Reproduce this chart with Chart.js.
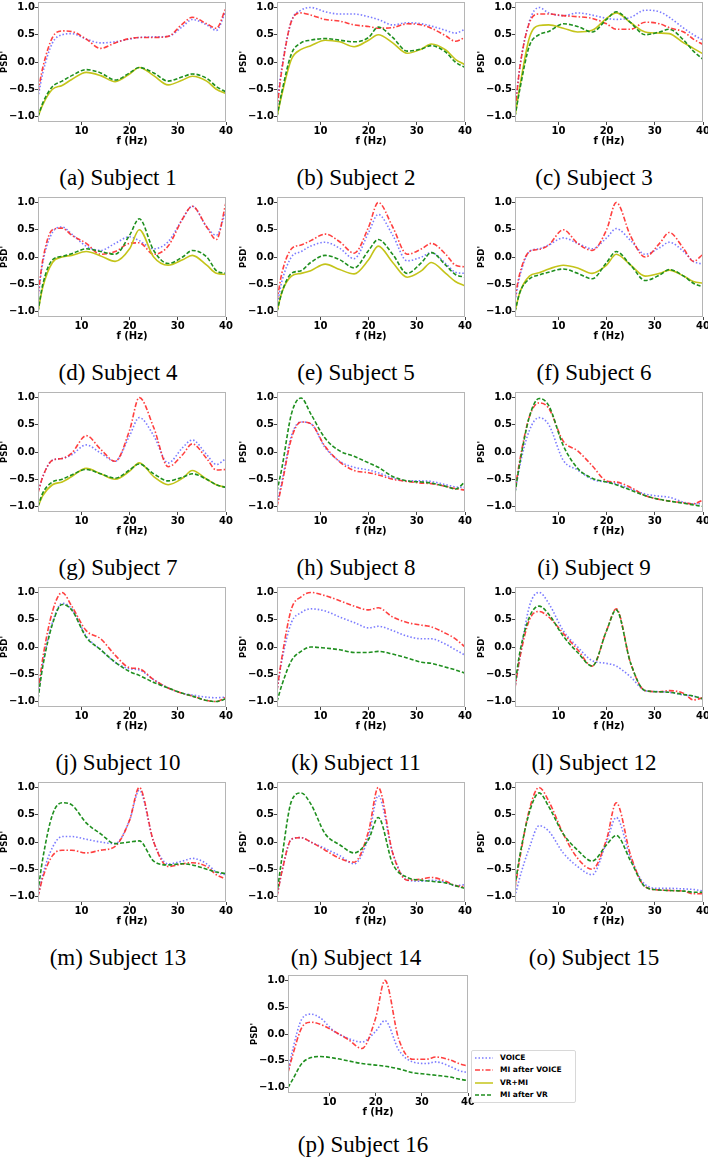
<!DOCTYPE html>
<html>
<head>
<meta charset="utf-8">
<script src="https://cdn.jsdelivr.net/npm/chart.js@4.4.1/dist/chart.umd.min.js"></script>
<style>
  html, body { margin: 0; padding: 0; background: #fff; overflow: hidden; }
  #page { position: relative; width: 708px; height: 1157px; }
  canvas { position: absolute; }
  .cap { position: absolute; width: 240px; text-align: center; font-family: "Liberation Serif", serif; font-size: 23px; line-height: 26px; color: #000; white-space: nowrap; }
  #legend { position: absolute; left: 471px; top: 1050px; width: 103px; height: 51px; border: 1px solid #d8d8d8; border-radius: 2px; background: #fff; font-family: "DejaVu Sans", sans-serif; font-weight: bold; font-size: 7.5px; }
  #legend div { position: absolute; left: 0; height: 12px; line-height: 12px; }
  #legend svg { position: absolute; left: 3px; top: 3px; }
  #legend span { position: absolute; left: 28px; top: 0; white-space: nowrap; }
</style>
</head>
<body>
<div id="page"></div>
<script>
// frequency grid (Hz) and normalised PSD per subject
var freqs = [1, 2, 4, 6, 8, 11, 14, 17, 20, 22, 25, 28, 31, 33, 36, 38, 40];
var captions = ['(a) Subject 1', '(b) Subject 2', '(c) Subject 3', '(d) Subject 4', '(e) Subject 5', '(f) Subject 6',
  '(g) Subject 7', '(h) Subject 8', '(i) Subject 9', '(j) Subject 10', '(k) Subject 11', '(l) Subject 12',
  '(m) Subject 13', '(n) Subject 14', '(o) Subject 15', '(p) Subject 16'];
var yTicks = [-1.0, -0.5, 0.0, 0.5, 1.0];
var xTicks = [10, 20, 30, 40];

var voice = [
  [-0.65, -0.2, 0.35, 0.5, 0.52, 0.42, 0.35, 0.37, 0.42, 0.45, 0.46, 0.47, 0.65, 0.78, 0.68, 0.58, 0.95],
  [-0.78, -0.1, 0.75, 0.95, 1.0, 0.92, 0.88, 0.88, 0.83, 0.78, 0.68, 0.72, 0.7, 0.66, 0.58, 0.53, 0.6],
  [-0.9, -0.1, 0.75, 1.0, 0.9, 0.85, 0.9, 0.86, 0.8, 0.78, 0.82, 0.95, 0.92, 0.82, 0.62, 0.5, 0.4],
  [-0.75, -0.1, 0.45, 0.55, 0.42, 0.2, 0.12, 0.25, 0.37, 0.3, 0.15, 0.28, 0.7, 0.93, 0.55, 0.4, 0.85],
  [-0.9, -0.45, 0.0, 0.1, 0.2, 0.27, 0.16, -0.03, 0.45, 0.78, 0.4, -0.07, 0.0, 0.08, -0.12, -0.28, -0.3],
  [-0.8, -0.35, 0.1, 0.15, 0.22, 0.35, 0.25, 0.15, 0.35, 0.52, 0.3, 0.05, 0.17, 0.27, 0.1, -0.08, -0.13],
  [-0.75, -0.45, -0.15, -0.12, -0.05, 0.13, -0.02, -0.17, 0.3, 0.63, 0.3, -0.2, 0.08, 0.22, -0.05, -0.23, -0.12],
  [-0.95, -0.55, 0.3, 0.55, 0.52, 0.08, -0.17, -0.28, -0.33, -0.38, -0.48, -0.53, -0.53, -0.54, -0.6, -0.64, -0.65],
  [-0.75, -0.25, 0.4, 0.63, 0.5, -0.15, -0.33, -0.5, -0.55, -0.58, -0.68, -0.77, -0.81, -0.83, -0.92, -0.95, -0.95],
  [-0.9, -0.3, 0.45, 0.8, 0.7, 0.2, -0.05, -0.28, -0.4, -0.42, -0.6, -0.75, -0.85, -0.88, -0.92, -0.93, -0.92],
  [-0.8, -0.25, 0.45, 0.63, 0.7, 0.66, 0.55, 0.45, 0.35, 0.38, 0.3, 0.2, 0.15, 0.15, 0.05, -0.05, -0.15],
  [-0.75, -0.2, 0.75, 1.0, 0.8, 0.3, 0.0, -0.25, -0.3, -0.35, -0.55, -0.8, -0.82, -0.83, -0.88, -0.9, -0.95],
  [-1.0, -0.6, -0.1, 0.1, 0.1, 0.05, 0.0, -0.03, 0.4, 0.95, 0.0, -0.4, -0.35, -0.3, -0.4, -0.55, -0.6],
  [-1.0, -0.55, 0.05, 0.08, 0.0, -0.12, -0.25, -0.4, 0.1, 0.85, -0.2, -0.7, -0.72, -0.7, -0.74, -0.8, -0.78],
  [-1.0, -0.65, -0.1, 0.3, 0.2, -0.2, -0.45, -0.6, 0.0, 0.45, -0.3, -0.78, -0.85, -0.85, -0.86, -0.87, -0.9],
  [-0.7, -0.3, 0.28, 0.37, 0.3, 0.05, -0.08, -0.15, 0.05, 0.25, -0.3, -0.52, -0.55, -0.52, -0.6, -0.68, -0.72]
];
var miAfterVoice = [
  [-0.55, -0.1, 0.45, 0.57, 0.56, 0.42, 0.25, 0.35, 0.43, 0.45, 0.45, 0.47, 0.7, 0.82, 0.7, 0.62, 1.0],
  [-0.85, -0.15, 0.75, 0.9, 0.86, 0.78, 0.75, 0.68, 0.65, 0.62, 0.63, 0.7, 0.68, 0.62, 0.48, 0.38, 0.45],
  [-0.9, -0.1, 0.72, 0.88, 0.88, 0.85, 0.83, 0.8, 0.7, 0.6, 0.6, 0.73, 0.7, 0.63, 0.55, 0.42, 0.32],
  [-0.7, -0.05, 0.5, 0.53, 0.4, 0.25, 0.05, 0.1, 0.25, 0.26, 0.05, 0.2, 0.7, 0.93, 0.55, 0.32, 1.0],
  [-0.8, -0.3, 0.15, 0.22, 0.3, 0.42, 0.28, 0.07, 0.55, 1.0, 0.55, 0.05, 0.15, 0.25, 0.05, -0.15, -0.18],
  [-0.75, -0.3, 0.1, 0.14, 0.22, 0.5, 0.25, 0.12, 0.5, 1.0, 0.38, 0.0, 0.25, 0.45, 0.15, -0.08, 0.05],
  [-0.75, -0.45, -0.15, -0.12, -0.02, 0.3, 0.05, -0.17, 0.4, 1.0, 0.45, -0.27, -0.05, 0.15, -0.12, -0.33, -0.32],
  [-1.0, -0.6, 0.25, 0.55, 0.52, 0.1, -0.18, -0.34, -0.38, -0.42, -0.5, -0.54, -0.57, -0.58, -0.63, -0.67, -0.7],
  [-0.7, -0.15, 0.65, 0.9, 0.8, 0.2, 0.02, -0.25, -0.53, -0.55, -0.65, -0.8, -0.87, -0.9, -0.93, -0.95, -0.88],
  [-0.85, -0.2, 0.65, 1.0, 0.75, 0.3, 0.15, -0.15, -0.38, -0.4, -0.6, -0.75, -0.85, -0.9, -0.98, -1.0, -0.92],
  [-0.8, -0.2, 0.7, 0.92, 1.0, 0.94, 0.85, 0.75, 0.68, 0.72, 0.55, 0.45, 0.4, 0.37, 0.25, 0.15, 0.0],
  [-0.75, -0.2, 0.5, 0.65, 0.55, 0.25, -0.05, -0.35, 0.3, 0.7, -0.3, -0.8, -0.82, -0.8, -0.85, -0.97, -0.93],
  [-1.0, -0.65, -0.25, -0.15, -0.15, -0.2, -0.15, -0.08, 0.4, 1.0, 0.0, -0.45, -0.4, -0.38, -0.45, -0.6, -0.68],
  [-1.0, -0.55, 0.05, 0.08, 0.0, -0.15, -0.3, -0.37, 0.2, 1.0, -0.2, -0.7, -0.68, -0.65, -0.72, -0.8, -0.82],
  [-0.85, -0.3, 0.6, 1.0, 0.75, 0.15, -0.3, -0.5, 0.05, 0.72, -0.25, -0.82, -0.88, -0.89, -0.9, -0.95, -0.95],
  [-0.72, -0.4, 0.12, 0.22, 0.18, 0.05, -0.1, -0.27, 0.3, 1.0, -0.1, -0.47, -0.47, -0.43, -0.48, -0.55, -0.6]
];
// only subjects 1-7 have a VR+MI session
var vrMi = [
  [-1.0, -0.78, -0.5, -0.43, -0.32, -0.19, -0.25, -0.36, -0.22, -0.1, -0.25, -0.42, -0.33, -0.26, -0.35, -0.5, -0.58],
  [-1.0, -0.6, 0.05, 0.23, 0.3, 0.4, 0.37, 0.28, 0.4, 0.5, 0.35, 0.16, 0.24, 0.33, 0.22, 0.05, -0.05],
  [-1.0, -0.45, 0.45, 0.67, 0.68, 0.62, 0.55, 0.58, 0.8, 0.9, 0.72, 0.55, 0.53, 0.52, 0.35, 0.25, 0.15],
  [-1.0, -0.55, -0.1, 0.0, 0.03, 0.1, 0.02, -0.08, 0.15, 0.5, 0.0, -0.15, -0.05, 0.03, -0.15, -0.3, -0.32],
  [-1.0, -0.65, -0.35, -0.3, -0.25, -0.13, -0.23, -0.31, -0.05, 0.2, -0.1, -0.37, -0.25, -0.1, -0.3, -0.45, -0.53],
  [-1.0, -0.65, -0.35, -0.29, -0.22, -0.15, -0.2, -0.3, -0.15, 0.05, -0.15, -0.35, -0.3, -0.24, -0.35, -0.45, -0.48],
  [-1.0, -0.8, -0.6, -0.55, -0.45, -0.3, -0.4, -0.5, -0.35, -0.2, -0.45, -0.6, -0.48, -0.34, -0.5, -0.6, -0.65]
];
var miAfterVr = [
  [-1.0, -0.75, -0.45, -0.35, -0.25, -0.14, -0.2, -0.33, -0.2, -0.1, -0.2, -0.35, -0.27, -0.22, -0.3, -0.45, -0.55],
  [-1.0, -0.55, 0.15, 0.35, 0.4, 0.43, 0.4, 0.37, 0.45, 0.64, 0.45, 0.2, 0.24, 0.3, 0.18, 0.0, -0.1],
  [-1.0, -0.5, 0.3, 0.5, 0.56, 0.7, 0.65, 0.55, 0.78, 0.92, 0.72, 0.5, 0.55, 0.6, 0.4, 0.2, 0.05],
  [-1.0, -0.5, -0.05, 0.01, 0.06, 0.15, 0.1, 0.05, 0.4, 0.7, 0.12, -0.12, 0.0, 0.12, 0.0, -0.25, -0.3],
  [-1.0, -0.65, -0.3, -0.25, -0.1, 0.03, -0.05, -0.2, 0.12, 0.32, 0.05, -0.3, -0.1, 0.08, -0.15, -0.32, -0.37],
  [-1.0, -0.65, -0.4, -0.33, -0.28, -0.22, -0.3, -0.4, -0.1, 0.1, -0.15, -0.43, -0.33, -0.23, -0.35, -0.48, -0.55],
  [-1.0, -0.75, -0.55, -0.5, -0.42, -0.32, -0.4, -0.48, -0.33, -0.22, -0.4, -0.53, -0.46, -0.4, -0.5, -0.6, -0.65],
  [-0.72, -0.3, 0.7, 0.99, 0.7, 0.25, 0.02, -0.08, -0.2, -0.28, -0.45, -0.53, -0.55, -0.57, -0.63, -0.68, -0.55],
  [-0.75, -0.2, 0.65, 0.98, 0.85, 0.12, -0.3, -0.48, -0.55, -0.6, -0.7, -0.8, -0.87, -0.9, -0.94, -0.97, -1.0],
  [-0.95, -0.35, 0.42, 0.78, 0.68, 0.18, -0.05, -0.28, -0.45, -0.52, -0.65, -0.75, -0.85, -0.9, -0.98, -1.0, -0.95],
  [-1.0, -0.7, -0.25, -0.08, 0.0, -0.02, -0.05, -0.1, -0.1, -0.08, -0.13, -0.2, -0.28, -0.3, -0.37, -0.42, -0.48],
  [-0.7, -0.1, 0.55, 0.75, 0.6, 0.2, -0.1, -0.35, 0.3, 0.68, -0.3, -0.8, -0.82, -0.83, -0.87, -0.9, -0.95],
  [-0.9, -0.3, 0.5, 0.72, 0.68, 0.35, 0.15, -0.03, 0.0, 0.02, -0.35, -0.42, -0.4, -0.42, -0.5, -0.55, -0.58],
  [-0.95, -0.3, 0.75, 0.9, 0.7, 0.15, -0.05, -0.2, 0.05, 0.45, -0.4, -0.65, -0.7, -0.72, -0.75, -0.8, -0.85],
  [-0.8, -0.25, 0.55, 0.9, 0.65, 0.15, -0.15, -0.35, -0.05, 0.12, -0.35, -0.82, -0.88, -0.89, -0.9, -0.92, -0.92],
  [-1.0, -0.85, -0.55, -0.44, -0.42, -0.45, -0.5, -0.55, -0.58, -0.6, -0.65, -0.72, -0.75, -0.77, -0.8, -0.84, -0.87]
];

var seriesStyle = [
  { label: 'VOICE', color: 'rgba(90,90,255,0.8)', dash: [1.5, 2] },
  { label: 'MI after VOICE', color: 'rgba(255,30,30,0.85)', dash: [5, 2, 1.5, 2] },
  { label: 'VR+MI', color: '#c4c41a', dash: [] },
  { label: 'MI after VR', color: '#1f8f1f', dash: [4, 2] }
];

Chart.defaults.font.family = 'DejaVu Sans';
Chart.defaults.font.weight = 'bold';
Chart.defaults.font.size = 10;
Chart.defaults.color = '#000';

var frame = {
  id: 'frame',
  afterDraw: function(chart) {
    var a = chart.chartArea, ctx = chart.ctx;
    ctx.save();
    ctx.strokeStyle = '#b5b5b5';
    ctx.lineWidth = 1;
    ctx.strokeRect(Math.round(a.left) + 0.5, Math.round(a.top) + 0.5, Math.round(a.right - a.left) - 1, Math.round(a.bottom - a.top) - 1);
    ctx.restore();
  }
};

function pts(vals) {
  return freqs.map(function(f, i) { return { x: f, y: vals[i] }; });
}

function minus(v) {
  return (v < 0 ? '\u2212' : '') + Math.abs(v).toFixed(1);
}

var page = document.getElementById('page');
var colLeft = [38, 277, 515];
var rowTop = [2, 197, 392, 587, 782];
var capCenter = [118, 356, 594];

function panel(k, L, T, W, H) {
  var cv = document.createElement('canvas');
  var cw = 38 + W + 12, ch = 6 + H + 25;
  cv.width = cw; cv.height = ch;
  cv.style.left = (L - 38) + 'px';
  cv.style.top = (T - 6) + 'px';
  cv.style.width = cw + 'px';
  cv.style.height = ch + 'px';
  page.appendChild(cv);

  var rows = [voice[k], miAfterVoice[k], k < vrMi.length ? vrMi[k] : null, miAfterVr[k]];
  var datasets = [];
  rows.forEach(function(r, i) {
    if (!r) return;
    var s = seriesStyle[i];
    datasets.push({
      label: s.label,
      data: pts(r),
      borderColor: s.color,
      borderDash: s.dash,
      borderWidth: 1.6,
      order: 3 - i,
      pointRadius: 0,
      cubicInterpolationMode: 'monotone',
      fill: false
    });
  });

  new Chart(cv, {
    type: 'line',
    data: { datasets: datasets },
    options: {
      animation: false,
      responsive: false,
      devicePixelRatio: 1,
      layout: { padding: { top: 6, right: 12, left: 0, bottom: 0 } },
      plugins: { legend: { display: false }, tooltip: { enabled: false } },
      scales: {
        x: {
          type: 'linear', min: 1, max: 40,
          afterBuildTicks: function(s) { s.ticks = xTicks.map(function(v) { return { value: v }; }); },
          afterFit: function(s) { s.height = 25; },
          grid: { display: true, drawOnChartArea: false, drawTicks: true, tickLength: 3, color: '#444' },
          border: { display: false },
          ticks: { padding: 0, maxRotation: 0, callback: function(v) { return String(v); } },
          title: { display: true, text: 'f (Hz)', font: { size: 10, weight: 'bold' }, padding: 0 }
        },
        y: {
          min: -1.1, max: 1.1,
          afterBuildTicks: function(s) { s.ticks = yTicks.map(function(v) { return { value: v }; }); },
          afterFit: function(s) { s.width = 38; },
          grid: { display: true, drawOnChartArea: false, drawTicks: true, tickLength: 3, color: '#444' },
          border: { display: false },
          ticks: { padding: 0, callback: function(v) { return minus(v); } },
          title: { display: true, text: "PSD'", font: { size: 8.5, weight: 'bold' }, padding: 0 }
        }
      }
    },
    plugins: [frame]
  });
}

function caption(text, cx, cy) {
  var d = document.createElement('div');
  d.className = 'cap';
  d.textContent = text;
  d.style.left = (cx - 120) + 'px';
  d.style.top = (cy - 13) + 'px';
  page.appendChild(d);
}

for (var k = 0; k < 15; k++) {
  var r = Math.floor(k / 3), c = k % 3;
  panel(k, colLeft[c], rowTop[r], 188, 120);
  caption(captions[k], capCenter[c], rowTop[r] + 176);
}
panel(15, 288, 975, 180, 118);
caption(captions[15], 363, 1145);

// legend
var lg = document.createElement('div');
lg.id = 'legend';
seriesStyle.forEach(function(s, i) {
  var row = document.createElement('div');
  row.style.top = (1 + i * 12.4) + 'px';
  row.style.width = '100%';
  var dash = s.dash.length ? ' stroke-dasharray="' + s.dash.join(' ') + '"' : '';
  row.innerHTML = '<svg width="20" height="6"><line x1="0" y1="3" x2="18" y2="3" stroke="' + s.color + '" stroke-width="1.5"' + dash + '/></svg><span>' + s.label + '</span>';
  lg.appendChild(row);
});
page.appendChild(lg);
</script>
</body>
</html>
